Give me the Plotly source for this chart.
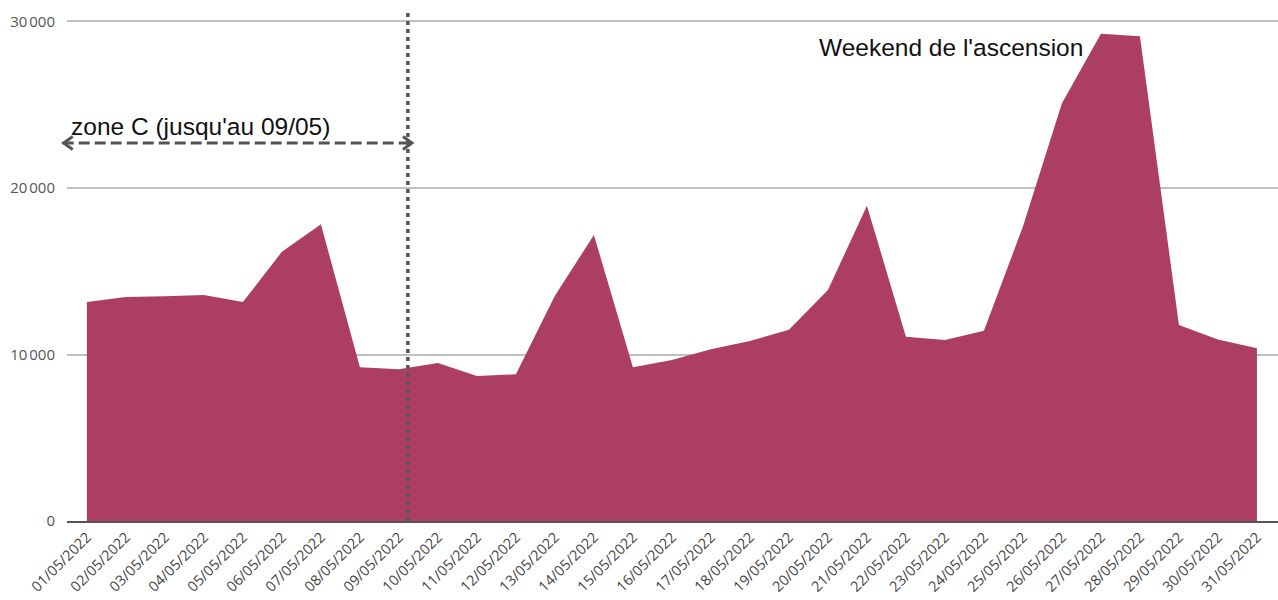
import plotly.graph_objects as go

dates = [f"{d:02d}/05/2022" for d in range(1, 32)]
visits = [13150, 13450, 13500, 13570, 13150, 16170, 17820, 9230, 9110, 9490,
          8710, 8810, 13530, 17180, 9230, 9670, 10310, 10810, 11490, 13870,
          18940, 11070, 10870, 11430, 17680, 25090, 29260, 29120, 11770, 10900,
          10370]

y_ticks = [0, 10000, 20000, 30000]
y_tick_text = ["0", "10\u202f000", "20\u202f000", "30\u202f000"]
zone_end = 8.23         # position of the end of zone C (category units)
arrow_y = 22700
fill_color = "#ad3e63"
dark = "#555555"

x_range = [-0.51, 30.54]


def to_paper(cat):
    return (cat - x_range[0]) / (x_range[1] - x_range[0])


fig = go.Figure()
fig.add_trace(go.Scatter(
    x=list(range(len(dates))), y=visits, mode="lines", fill="tozeroy",
    line=dict(color=fill_color, width=0), fillcolor=fill_color,
    hoverinfo="x+y", showlegend=False,
))

# vertical dotted line
fig.add_shape(type="line", xref="x", yref="paper", x0=zone_end, x1=zone_end,
              y0=0, y1=1, line=dict(color=dark, width=3.5, dash="4px,4px"))
# dashed horizontal arrow
x_left = to_paper(-0.62)
x_right = to_paper(8.36)
fig.add_shape(type="line", xref="paper", yref="y", x0=x_left, x1=x_right,
              y0=arrow_y, y1=arrow_y,
              line=dict(color=dark, width=3, dash="11px,5px"))
fig.add_shape(type="path", xref="paper", yref="y", xsizemode="pixel", ysizemode="pixel",
              xanchor=x_left, yanchor=arrow_y, path="M 10,6.5 L 1,0 L 10,-6.5",
              line=dict(color=dark, width=3))
fig.add_shape(type="path", xref="paper", yref="y", xsizemode="pixel", ysizemode="pixel",
              xanchor=x_right, yanchor=arrow_y, path="M -10,6.5 L -1,0 L -10,-6.5",
              line=dict(color=dark, width=3))

fig.add_annotation(text="zone C (jusqu'au 09/05)", xref="x", yref="y",
                   x=-0.47, y=23720, xanchor="left", yanchor="middle",
                   showarrow=False,
                   font=dict(family="Liberation Sans, Arial", size=24.5, color="#111111"))
fig.add_annotation(text="Weekend de l'ascension", xref="x", yref="y",
                   x=18.72, y=28410, xanchor="left", yanchor="middle",
                   showarrow=False,
                   font=dict(family="Liberation Sans, Arial", size=24.5, color="#111111"))

fig.update_layout(
    width=1278, height=600,
    margin=dict(l=67, r=0, t=12, b=79),
    plot_bgcolor="white", paper_bgcolor="white",
    font=dict(family="Open Sans", color="#444444"),
)
fig.update_xaxes(
    tickmode="array", tickvals=list(range(len(dates))), ticktext=dates,
    tickangle=-45, tickfont=dict(size=14.5, family="Open Sans", color="#444444"),
    range=x_range, showgrid=False, zeroline=False,
    showline=True, linecolor=dark, linewidth=2, layer="below traces",
)
fig.update_yaxes(
    tickmode="array", tickvals=y_ticks, ticktext=y_tick_text, range=[0, 30570],
    tickfont=dict(size=15, family="Open Sans", color="#555555"),
    showgrid=True, gridcolor="#c0c0c0", gridwidth=1.5,
    zeroline=False, showline=False, ticklabelstandoff=11,
    layer="below traces",
)

fig.write_html("out.html", post_script="document.body.style.margin='0';",
               config={"displayModeBar": False})
